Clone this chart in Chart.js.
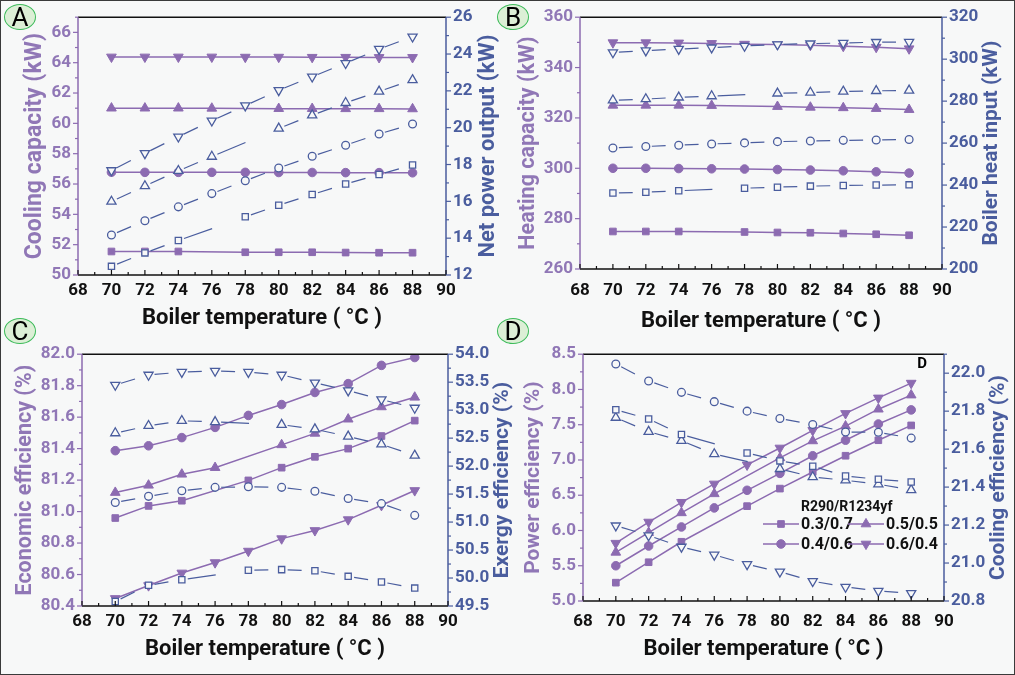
<!DOCTYPE html>
<html lang="en">
<head>
  <meta charset="UTF-8">
  <title>Boiler temperature effects</title>
  <script src="https://cdn.jsdelivr.net/npm/chart.js"></script>
  <style>
    body {
      margin: 0;
      background-color: #f7f8f8;
    }
    #wrap {
      position: relative;
      width: 1015px;
      height: 675px;
      background-color: #f7f8f8;
      overflow: hidden;
    }
    #wrap canvas {
      position: absolute;
    }
    .frameBorder {
      position: absolute;
      left: 0; top: 0; right: 0; bottom: 0;
      border: 1px solid #3a3a3a;
      pointer-events: none;
    }
    .tag {
      position: absolute;
      width: 30px;
      height: 24px;
      border: 1.5px solid #3dbb5a;
      background-color: #dcefd6;
      border-radius: 50%;
      font-family: Roboto, sans-serif;
      font-size: 26px;
      line-height: 25px;
      text-align: center;
      color: #000;
    }
  </style>
</head>
<body>
  <div id="wrap">
    <canvas id="cA" width="507" height="337" style="left:0;top:0"></canvas>
    <canvas id="cB" width="508" height="337" style="left:507px;top:0"></canvas>
    <canvas id="cC" width="520" height="338" style="left:0;top:337px"></canvas>
    <canvas id="cD" width="508" height="338" style="left:507px;top:337px"></canvas>
    <div class="tag" style="left:4px;top:4px">A</div>
    <div class="tag" style="left:497px;top:4px">B</div>
    <div class="tag" style="left:4px;top:318px">C</div>
    <div class="tag" style="left:497px;top:318px">D</div>
    <div class="frameBorder"></div>
  </div>

  <script>
    // boiler temperature (°C); null = no marker shown in the figure
    const temps = [70, 72, 74, 76, 78, 80, 82, 84, 86, 88];
    const mixLabels = ['0.3/0.7', '0.4/0.6', '0.5/0.5', '0.6/0.4'];

    // A: cooling capacity (kW, left) and net power output (kW, right)
    const aCoolSq = [51.55, 51.55, 51.55, null, 51.5, 51.5, 51.5, 51.48, 51.47, 51.47];
    const aCoolCi = [56.78, 56.77, 56.77, 56.77, 56.77, 56.76, 56.76, 56.75, 56.75, 56.74];
    const aCoolTu = [61.0, 61.0, 61.0, 60.99, null, 60.97, 60.97, 60.96, 60.96, 60.95];
    const aCoolTd = [64.38, 64.38, 64.38, 64.38, 64.37, 64.37, 64.36, 64.36, 64.35, 64.35];
    const aPowSq = [12.47, 13.2, 13.87, null, 15.16, 15.79, 16.37, 16.94, 17.46, 17.97];
    const aPowCi = [14.17, 14.95, 15.7, 16.42, 17.12, 17.81, 18.45, 19.05, 19.66, 20.2];
    const aPowTu = [15.99, 16.83, 17.66, 18.43, null, 19.96, 20.68, 21.35, 21.97, 22.59];
    const aPowTd = [17.68, 18.61, 19.51, 20.38, 21.2, 22.03, 22.77, 23.5, 24.27, 24.94];

    // B: heating capacity (kW, left) and boiler heat input (kW, right)
    const bHeatSq = [274.9, 274.9, 274.9, null, 274.7, 274.5, 274.4, 274.1, 273.8, 273.4];
    const bHeatCi = [300.0, 300.0, 299.9, 299.8, 299.7, 299.5, 299.3, 299.0, 298.6, 298.1];
    const bHeatTu = [325.0, 325.0, 325.0, 324.9, null, 324.5, 324.2, 324.0, 323.7, 323.3];
    const bHeatTd = [349.9, 349.9, 349.8, 349.6, 349.3, 349.2, 348.9, 348.5, 348.1, 347.5];
    const bInSq = [236.2, 236.6, 237.3, null, 238.5, 239.0, 239.5, 239.8, 240.0, 240.1];
    const bInCi = [257.7, 258.4, 259.0, 259.6, 260.1, 260.7, 261.0, 261.3, 261.5, 261.7];
    const bInTu = [280.4, 281.0, 281.8, 282.4, null, 283.7, 284.1, 284.6, 284.9, 285.1];
    const bInTd = [303.2, 304.1, 304.8, 305.5, 306.3, 307.0, 307.4, 307.7, 308.1, 308.2];

    // C: economic efficiency (%, left) and exergy efficiency (%, right)
    const cEcoSq = [80.959, 81.036, 81.069, null, 81.198, 81.279, 81.348, 81.4, 81.48, 81.578];
    const cEcoCi = [81.387, 81.418, 81.47, 81.535, 81.611, 81.68, 81.757, 81.813, 81.929, 81.979];
    const cEcoTu = [81.121, 81.167, 81.237, 81.279, null, 81.424, 81.497, 81.587, 81.665, 81.726];
    const cEcoTd = [80.448, 80.53, 80.61, 80.676, 80.749, 80.828, 80.88, 80.949, 81.04, 81.134];
    const cExSq = [49.58, 49.87, 49.97, null, 50.14, 50.15, 50.13, 50.03, 49.93, 49.82];
    const cExCi = [51.35, 51.46, 51.56, 51.62, 51.63, 51.62, 51.55, 51.42, 51.33, 51.12];
    const cExTu = [52.59, 52.72, 52.81, 52.79, null, 52.74, 52.66, 52.53, 52.39, 52.19];
    const cExTd = [53.45, 53.63, 53.68, 53.7, 53.68, 53.63, 53.49, 53.35, 53.19, 53.04];

    // D: power efficiency (%, left) and cooling efficiency (%, right)
    const dPowSq = [5.26, 5.55, 5.84, null, 6.345, 6.594, 6.83, 7.06, 7.28, 7.49];
    const dPowCi = [5.5, 5.78, 6.05, 6.32, 6.57, 6.81, 7.06, 7.28, 7.51, 7.71];
    const dPowTu = [5.69, 5.97, 6.25, 6.52, null, 7.03, 7.27, 7.48, 7.72, 7.92];
    const dPowTd = [5.82, 6.12, 6.4, 6.66, 6.93, 7.17, 7.42, 7.66, 7.88, 8.09];
    const dCoolSq = [21.807, 21.759, 21.677, null, 21.58, 21.538, 21.51, 21.458, 21.441, 21.427];
    const dCoolCi = [22.048, 21.959, 21.899, 21.85, 21.8, 21.761, 21.73, 21.69, 21.689, 21.658];
    const dCoolTu = [21.766, 21.692, 21.644, 21.574, null, 21.496, 21.453, 21.436, 21.415, 21.385];
    const dCoolTd = [21.197, 21.145, 21.085, 21.043, 20.993, 20.954, 20.904, 20.874, 20.853, 20.841];

    const PURPLE = '#8c6bb1';
    const PURPLE_TXT = '#9077b6';
    const BLUE = '#4a5d9e';
    const BG = '#f7f8f8';
    const FONT = 'Roboto';

    // square, circle, up triangle, down triangle (same order as mixLabels)
    const shapes = [
      { style: 'rect', rot: 0, rFill: 4.7, rOpen: 4.4 },
      { style: 'circle', rot: 0, rFill: 4.3, rOpen: 3.9 },
      { style: 'triangle', rot: 0, rFill: 5.6, rOpen: 5.3 },
      { style: 'triangle', rot: 180, rFill: 5.6, rOpen: 5.3 }
    ];

    function toXY(vals) {
      return temps.map((t, i) => ({ x: t, y: vals[i] })).filter(p => p.y !== null);
    }

    function fillSet(vals, k) {
      const s = shapes[k];
      return {
        label: mixLabels[k],
        data: toXY(vals),
        yAxisID: 'y',
        order: 2,
        borderColor: PURPLE,
        backgroundColor: PURPLE,
        borderWidth: 1.5,
        pointStyle: s.style,
        rotation: s.rot,
        pointRadius: s.rFill,
        pointBorderWidth: 1,
        pointBackgroundColor: PURPLE,
        pointBorderColor: PURPLE
      };
    }

    // open markers, each segment starts with a short dash after the marker
    function openSet(vals, k) {
      const s = shapes[k];
      return {
        label: mixLabels[k] + ' (right)',
        data: toXY(vals),
        yAxisID: 'y2',
        order: 1,
        borderColor: BLUE,
        backgroundColor: BG,
        borderWidth: 1.2,
        pointStyle: s.style,
        rotation: s.rot,
        pointRadius: s.rOpen,
        pointBorderWidth: 1.3,
        pointBackgroundColor: BG,
        pointBorderColor: BLUE,
        segment: {
          borderDash: c => {
            const d = Math.hypot(c.p1.x - c.p0.x, c.p1.y - c.p0.y);
            return [d * 0.42, d * 2];
          },
          borderDashOffset: c => -6 - c.p0DataIndex * 0.001
        }
      };
    }

    function line(ctx, x1, y1, x2, y2, color) {
      ctx.strokeStyle = color;
      ctx.beginPath();
      ctx.moveTo(x1, y1);
      ctx.lineTo(x2, y2);
      ctx.stroke();
    }

    function tickLoop(ax, fn) {
      const n = Math.round((ax.max - ax.min) / ax.minor);
      for (let i = 0; i <= n; i++) {
        const v = ax.min + i * ax.minor;
        const q = (v - ax.min) / ax.step;
        fn(v, Math.abs(q - Math.round(q)) < 1e-6);
      }
    }

    const framePlugin = {
      id: 'frame',
      afterDraw(chart, args, o) {
        const { ctx, chartArea: a, scales } = chart;
        ctx.save();
        ctx.lineWidth = 1.5;
        line(ctx, a.left, a.top, a.right, a.top, '#111');
        line(ctx, a.left, a.bottom, a.right, a.bottom, '#111');
        line(ctx, a.left, a.top, a.left, a.bottom, PURPLE);
        line(ctx, a.right, a.top, a.right, a.bottom, BLUE);
        ctx.lineWidth = 1.2;
        for (let v = 68; v <= 90; v++) {
          const px = scales.x.getPixelForValue(v);
          line(ctx, px, a.bottom, px, a.bottom - (v % 2 === 0 ? 5 : 3), '#111');
        }
        tickLoop(o.left, (v, major) => {
          const py = scales.y.getPixelForValue(v);
          line(ctx, a.left, py, a.left - (major ? 5 : 3), py, PURPLE);
        });
        tickLoop(o.right, (v, major) => {
          const py = scales.y2.getPixelForValue(v);
          line(ctx, a.right, py, a.right + (major ? 5 : 3), py, BLUE);
        });

        // right axis title, reading bottom to top
        ctx.save();
        ctx.translate(o.right.titleX, (a.top + a.bottom) / 2);
        ctx.rotate(-Math.PI / 2);
        ctx.fillStyle = BLUE;
        ctx.font = 'bold ' + o.right.titleSize + 'px ' + FONT;
        ctx.textAlign = 'center';
        ctx.textBaseline = 'middle';
        ctx.fillText(o.right.title, 0, 0);
        ctx.restore();

        if (o.legend) {
          const lg = o.legend;
          ctx.fillStyle = '#111';
          ctx.textAlign = 'left';
          ctx.textBaseline = 'middle';
          ctx.font = 'bold 14px ' + FONT;
          ctx.fillText(lg.title, lg.titleX, lg.titleY);
          ctx.font = 'bold 16px ' + FONT;
          // column-wise order: 0.3/0.7, 0.4/0.6 | 0.5/0.5, 0.6/0.4
          lg.slots.forEach((sl, k) => {
            const s = shapes[k];
            ctx.lineWidth = 1.5;
            line(ctx, sl.x, sl.y, sl.x + 36, sl.y, PURPLE);
            ctx.fillStyle = PURPLE;
            ctx.strokeStyle = PURPLE;
            ctx.lineWidth = 1;
            Chart.helpers.drawPoint(ctx, { pointStyle: s.style, rotation: s.rot, radius: s.rFill, borderWidth: 1 }, sl.x + 18, sl.y);
            ctx.fillStyle = '#111';
            ctx.fillText(mixLabels[k], sl.x + 38, sl.y + 1);
          });
        }
        if (o.mark) {
          ctx.fillStyle = '#000';
          ctx.font = 'bold 15px ' + FONT;
          ctx.textAlign = 'center';
          ctx.textBaseline = 'middle';
          ctx.fillText(o.mark.text, o.mark.x, o.mark.y);
        }
        ctx.restore();
      }
    };

    function makePanel(p) {
      const W = p.W, H = p.H, P = p.P;
      const fmtL = v => Number(v).toFixed(p.left.dec);
      const fmtR = v => Number(v).toFixed(p.right.dec);
      const datasets = [];
      p.open.forEach((vals, k) => datasets.push(openSet(vals, k)));
      p.fill.forEach((vals, k) => datasets.push(fillSet(vals, k)));
      const noGrid = { display: false, drawTicks: false, tickLength: 0 };

      return new Chart(document.getElementById(p.id).getContext('2d'), {
        type: 'line',
        data: { datasets: datasets },
        options: {
          responsive: false,
          animation: false,
          layout: { padding: { top: P.T, left: 0, right: 0, bottom: 0 } },
          plugins: {
            legend: { display: false },
            tooltip: { enabled: false },
            frame: { left: p.left, right: p.right, legend: p.legend, mark: p.mark }
          },
          scales: {
            x: {
              type: 'linear',
              min: 68,
              max: 90,
              afterFit: s => { s.height = H - P.B; },
              grid: noGrid,
              border: { display: false },
              ticks: {
                stepSize: 2,
                padding: p.xPad,
                color: '#111',
                maxRotation: 0,
                autoSkip: false,
                font: { family: FONT, size: 17, weight: 'bold' }
              },
              title: {
                display: true,
                text: 'Boiler temperature ( °C )',
                color: '#111',
                font: { family: FONT, size: 22, weight: 'bold' },
                padding: { top: 0, bottom: p.xTitlePad }
              }
            },
            y: {
              position: 'left',
              min: p.left.min,
              max: p.left.max,
              afterFit: s => { s.width = P.L; },
              grid: noGrid,
              border: { display: false },
              ticks: {
                stepSize: p.left.step,
                includeBounds: false,
                padding: 7,
                color: PURPLE_TXT,
                font: { family: FONT, size: 17, weight: 'bold' },
                callback: fmtL
              },
              title: {
                display: true,
                text: p.left.title,
                color: PURPLE_TXT,
                font: { family: FONT, size: p.left.titleSize, weight: 'bold' },
                padding: { top: p.left.titleC - p.left.titleSize * 0.6, bottom: 0 }
              }
            },
            y2: {
              position: 'right',
              min: p.right.min,
              max: p.right.max,
              afterFit: s => { s.width = W - P.R; },
              grid: noGrid,
              border: { display: false },
              ticks: {
                stepSize: p.right.step,
                includeBounds: false,
                padding: 7,
                color: BLUE,
                font: { family: FONT, size: 17, weight: 'bold' },
                callback: fmtR
              }
            }
          }
        },
        plugins: [framePlugin]
      });
    }

    makePanel({
      id: 'cA', W: 507, H: 337, P: { L: 78, R: 446, T: 16, B: 275 }, xPad: 6, xTitlePad: 5,
      left: { min: 50, max: 67, step: 2, minor: 1, dec: 0, title: 'Cooling capacity (kW)', titleSize: 23, titleC: 35 },
      right: { min: 12, max: 26, step: 2, minor: 1, dec: 0, title: 'Net power output (kW)', titleSize: 22, titleX: 488 },
      fill: [aCoolSq, aCoolCi, aCoolTu, aCoolTd],
      open: [aPowSq, aPowCi, aPowTu, aPowTd]
    });

    makePanel({
      id: 'cB', W: 508, H: 337, P: { L: 73, R: 435, T: 15, B: 269 }, xPad: 12, xTitlePad: 2,
      left: { min: 260, max: 360, step: 20, minor: 10, dec: 0, title: 'Heating capacity (kW)', titleSize: 21.5, titleC: 22 },
      right: { min: 200, max: 320, step: 20, minor: 10, dec: 0, title: 'Boiler heat input (kW)', titleSize: 21, titleX: 485 },
      fill: [bHeatSq, bHeatCi, bHeatTu, bHeatTd],
      open: [bInSq, bInCi, bInTu, bInTd]
    });

    makePanel({
      id: 'cC', W: 520, H: 338, P: { L: 82, R: 448, T: 12, B: 269 }, xPad: 6, xTitlePad: 12,
      left: { min: 80.4, max: 82.0, step: 0.2, minor: 0.1, dec: 1, title: 'Economic efficiency (%)', titleSize: 21.5, titleC: 26 },
      right: { min: 49.5, max: 54.0, step: 0.5, minor: 0.25, dec: 1, title: 'Exergy efficiency (%)', titleSize: 21, titleX: 503 },
      fill: [cEcoSq, cEcoCi, cEcoTu, cEcoTd],
      open: [cExSq, cExCi, cExTu, cExTd]
    });

    makePanel({
      id: 'cD', W: 508, H: 338, P: { L: 76, R: 437, T: 10, B: 264 }, xPad: 11, xTitlePad: 12,
      left: { min: 5.0, max: 8.5, step: 0.5, minor: 0.25, dec: 1, title: 'Power efficiency (%)', titleSize: 21, titleC: 27 },
      right: { min: 20.8, max: 22.1, step: 0.2, minor: 0.1, dec: 1, title: 'Cooling efficiency (%)', titleSize: 21, titleX: 492 },
      fill: [dPowSq, dPowCi, dPowTu, dPowTd],
      open: [dCoolSq, dCoolCi, dCoolTu, dCoolTd],
      legend: {
        title: 'R290/R1234yf', titleX: 294, titleY: 170,
        slots: [{ x: 256, y: 187 }, { x: 256, y: 207 }, { x: 341, y: 187 }, { x: 341, y: 207 }]
      },
      mark: { text: 'D', x: 415, y: 27 }
    });
  </script>
</body>
</html>
